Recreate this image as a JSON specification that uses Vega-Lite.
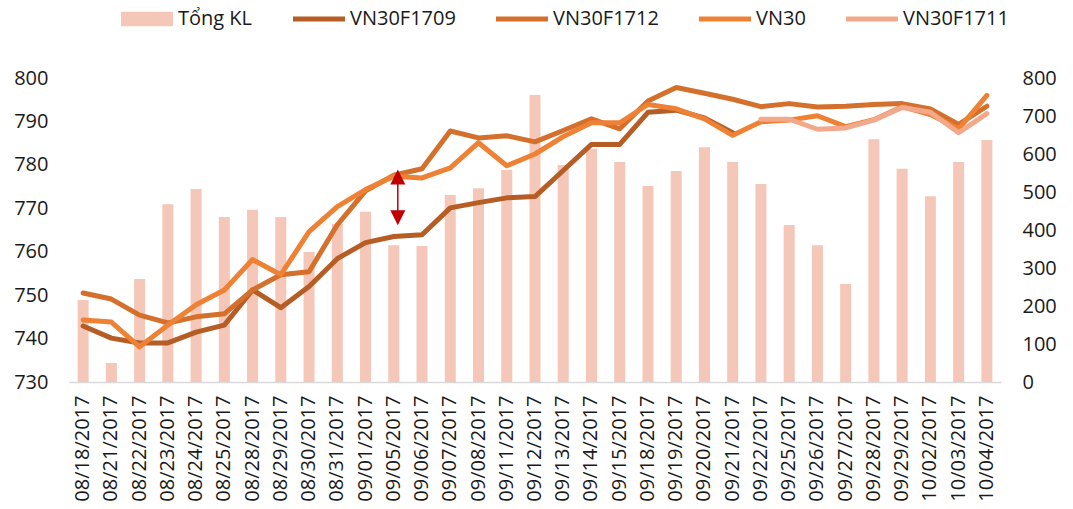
{
  "$schema": "https://vega.github.io/schema/vega-lite/v6.json",
  "autosize": {"type": "none"},
  "width": 932,
  "height": 304,
  "padding": {"left": 69, "top": 78, "right": 72, "bottom": 127},
  "background": "white",
  "config": {
    "view": {"stroke": null},
    "font": "Open Sans",
    "axis": {"labelFont": "Open Sans", "labelFontSize": 20, "labelColor": "#1a1a1a", "grid": false, "ticks": false}
  },
  "datasets": {
    "bars": [
      {"date": "08/18/2017", "kl": 216}, {"date": "08/21/2017", "kl": 50}, {"date": "08/22/2017", "kl": 271},
      {"date": "08/23/2017", "kl": 468}, {"date": "08/24/2017", "kl": 508}, {"date": "08/25/2017", "kl": 434},
      {"date": "08/28/2017", "kl": 453}, {"date": "08/29/2017", "kl": 434}, {"date": "08/30/2017", "kl": 342},
      {"date": "08/31/2017", "kl": 416}, {"date": "09/01/2017", "kl": 448}, {"date": "09/05/2017", "kl": 360},
      {"date": "09/06/2017", "kl": 358}, {"date": "09/07/2017", "kl": 492}, {"date": "09/08/2017", "kl": 510},
      {"date": "09/11/2017", "kl": 558}, {"date": "09/12/2017", "kl": 755}, {"date": "09/13/2017", "kl": 571},
      {"date": "09/14/2017", "kl": 614}, {"date": "09/15/2017", "kl": 579}, {"date": "09/18/2017", "kl": 516},
      {"date": "09/19/2017", "kl": 555}, {"date": "09/20/2017", "kl": 618}, {"date": "09/21/2017", "kl": 579},
      {"date": "09/22/2017", "kl": 521}, {"date": "09/25/2017", "kl": 413}, {"date": "09/26/2017", "kl": 360},
      {"date": "09/27/2017", "kl": 258}, {"date": "09/28/2017", "kl": 639}, {"date": "09/29/2017", "kl": 561},
      {"date": "10/02/2017", "kl": 489}, {"date": "10/03/2017", "kl": 579}, {"date": "10/04/2017", "kl": 637}
    ],
    "lines": [
      {"date": "08/18/2017", "series": "VN30F1709", "value": 742.9},
      {"date": "08/21/2017", "series": "VN30F1709", "value": 740.1},
      {"date": "08/22/2017", "series": "VN30F1709", "value": 739.0},
      {"date": "08/23/2017", "series": "VN30F1709", "value": 739.0},
      {"date": "08/24/2017", "series": "VN30F1709", "value": 741.5},
      {"date": "08/25/2017", "series": "VN30F1709", "value": 743.1},
      {"date": "08/28/2017", "series": "VN30F1709", "value": 751.2},
      {"date": "08/29/2017", "series": "VN30F1709", "value": 747.1},
      {"date": "08/30/2017", "series": "VN30F1709", "value": 752.0},
      {"date": "08/31/2017", "series": "VN30F1709", "value": 758.4},
      {"date": "09/01/2017", "series": "VN30F1709", "value": 762.1},
      {"date": "09/05/2017", "series": "VN30F1709", "value": 763.5},
      {"date": "09/06/2017", "series": "VN30F1709", "value": 763.9},
      {"date": "09/07/2017", "series": "VN30F1709", "value": 770.1},
      {"date": "09/08/2017", "series": "VN30F1709", "value": 771.3},
      {"date": "09/11/2017", "series": "VN30F1709", "value": 772.4},
      {"date": "09/12/2017", "series": "VN30F1709", "value": 772.7},
      {"date": "09/13/2017", "series": "VN30F1709", "value": 778.7},
      {"date": "09/14/2017", "series": "VN30F1709", "value": 784.7},
      {"date": "09/15/2017", "series": "VN30F1709", "value": 784.7},
      {"date": "09/18/2017", "series": "VN30F1709", "value": 792.1},
      {"date": "09/19/2017", "series": "VN30F1709", "value": 792.6},
      {"date": "09/20/2017", "series": "VN30F1709", "value": 790.8},
      {"date": "09/21/2017", "series": "VN30F1709", "value": 787.4},

      {"date": "08/18/2017", "series": "VN30F1712", "value": 750.5},
      {"date": "08/21/2017", "series": "VN30F1712", "value": 749.1},
      {"date": "08/22/2017", "series": "VN30F1712", "value": 745.4},
      {"date": "08/23/2017", "series": "VN30F1712", "value": 743.6},
      {"date": "08/24/2017", "series": "VN30F1712", "value": 745.0},
      {"date": "08/25/2017", "series": "VN30F1712", "value": 745.7},
      {"date": "08/28/2017", "series": "VN30F1712", "value": 751.2},
      {"date": "08/29/2017", "series": "VN30F1712", "value": 754.7},
      {"date": "08/30/2017", "series": "VN30F1712", "value": 755.4},
      {"date": "08/31/2017", "series": "VN30F1712", "value": 766.2},
      {"date": "09/01/2017", "series": "VN30F1712", "value": 774.0},
      {"date": "09/05/2017", "series": "VN30F1712", "value": 777.6},
      {"date": "09/06/2017", "series": "VN30F1712", "value": 779.1},
      {"date": "09/07/2017", "series": "VN30F1712", "value": 787.8},
      {"date": "09/08/2017", "series": "VN30F1712", "value": 786.2},
      {"date": "09/11/2017", "series": "VN30F1712", "value": 786.7},
      {"date": "09/12/2017", "series": "VN30F1712", "value": 785.3},
      {"date": "09/13/2017", "series": "VN30F1712", "value": 787.9},
      {"date": "09/14/2017", "series": "VN30F1712", "value": 790.6},
      {"date": "09/15/2017", "series": "VN30F1712", "value": 788.3},
      {"date": "09/18/2017", "series": "VN30F1712", "value": 794.7},
      {"date": "09/19/2017", "series": "VN30F1712", "value": 797.8},
      {"date": "09/20/2017", "series": "VN30F1712", "value": 796.5},
      {"date": "09/21/2017", "series": "VN30F1712", "value": 795.1},
      {"date": "09/22/2017", "series": "VN30F1712", "value": 793.4},
      {"date": "09/25/2017", "series": "VN30F1712", "value": 794.1},
      {"date": "09/26/2017", "series": "VN30F1712", "value": 793.3},
      {"date": "09/27/2017", "series": "VN30F1712", "value": 793.5},
      {"date": "09/28/2017", "series": "VN30F1712", "value": 793.9},
      {"date": "09/29/2017", "series": "VN30F1712", "value": 794.1},
      {"date": "10/02/2017", "series": "VN30F1712", "value": 792.9},
      {"date": "10/03/2017", "series": "VN30F1712", "value": 789.3},
      {"date": "10/04/2017", "series": "VN30F1712", "value": 793.5},

      {"date": "08/18/2017", "series": "VN30", "value": 744.3},
      {"date": "08/21/2017", "series": "VN30", "value": 743.8},
      {"date": "08/22/2017", "series": "VN30", "value": 738.1},
      {"date": "08/23/2017", "series": "VN30", "value": 743.1},
      {"date": "08/24/2017", "series": "VN30", "value": 747.8},
      {"date": "08/25/2017", "series": "VN30", "value": 751.2},
      {"date": "08/28/2017", "series": "VN30", "value": 758.2},
      {"date": "08/29/2017", "series": "VN30", "value": 754.7},
      {"date": "08/30/2017", "series": "VN30", "value": 764.6},
      {"date": "08/31/2017", "series": "VN30", "value": 770.4},
      {"date": "09/01/2017", "series": "VN30", "value": 774.3},
      {"date": "09/05/2017", "series": "VN30", "value": 777.4},
      {"date": "09/06/2017", "series": "VN30", "value": 777.0},
      {"date": "09/07/2017", "series": "VN30", "value": 779.3},
      {"date": "09/08/2017", "series": "VN30", "value": 785.1},
      {"date": "09/11/2017", "series": "VN30", "value": 779.8},
      {"date": "09/12/2017", "series": "VN30", "value": 782.5},
      {"date": "09/13/2017", "series": "VN30", "value": 786.5},
      {"date": "09/14/2017", "series": "VN30", "value": 789.7},
      {"date": "09/15/2017", "series": "VN30", "value": 789.7},
      {"date": "09/18/2017", "series": "VN30", "value": 793.9},
      {"date": "09/19/2017", "series": "VN30", "value": 792.9},
      {"date": "09/20/2017", "series": "VN30", "value": 790.6},
      {"date": "09/21/2017", "series": "VN30", "value": 786.8},
      {"date": "09/22/2017", "series": "VN30", "value": 789.9},
      {"date": "09/25/2017", "series": "VN30", "value": 790.3},
      {"date": "09/26/2017", "series": "VN30", "value": 791.3},
      {"date": "09/27/2017", "series": "VN30", "value": 788.8},
      {"date": "09/28/2017", "series": "VN30", "value": 790.4},
      {"date": "09/29/2017", "series": "VN30", "value": 793.4},
      {"date": "10/02/2017", "series": "VN30", "value": 791.6},
      {"date": "10/03/2017", "series": "VN30", "value": 788.3},
      {"date": "10/04/2017", "series": "VN30", "value": 796.0},

      {"date": "09/22/2017", "series": "VN30F1711", "value": 790.5},
      {"date": "09/25/2017", "series": "VN30F1711", "value": 790.5},
      {"date": "09/26/2017", "series": "VN30F1711", "value": 788.2},
      {"date": "09/27/2017", "series": "VN30F1711", "value": 788.5},
      {"date": "09/28/2017", "series": "VN30F1711", "value": 790.3},
      {"date": "09/29/2017", "series": "VN30F1711", "value": 793.2},
      {"date": "10/02/2017", "series": "VN30F1711", "value": 792.1},
      {"date": "10/03/2017", "series": "VN30F1711", "value": 787.4},
      {"date": "10/04/2017", "series": "VN30F1711", "value": 791.8}
    ],
    "arrow": [
      {"date": "09/05/2017", "top": 777.2, "bottom": 767.8}
    ]
  },
  "layer": [
    {
      "data": {"name": "bars"},
      "mark": {"type": "bar"},
      "encoding": {
        "x": {
          "field": "date", "type": "ordinal", "title": null,
          "scale": {"paddingInner": 0.61, "paddingOuter": 0.305},
          "axis": {"labelAngle": -90, "labelPadding": 13, "domainColor": "#D9D9D9", "domainWidth": 1.5}
        },
        "y": {
          "field": "kl", "type": "quantitative", "title": null,
          "scale": {"domain": [0, 800], "nice": false},
          "axis": {"orient": "right", "values": [0, 100, 200, 300, 400, 500, 600, 700, 800], "domain": false, "labelPadding": 21}
        },
        "color": {
          "datum": "Tổng KL",
          "title": null,
          "scale": {
            "domain": ["Tổng KL", "VN30F1709", "VN30F1712", "VN30", "VN30F1711"],
            "range": ["#F5C7B8", "#B55D25", "#D5702C", "#EE8134", "#F2A98B"]
          },
          "legend": {
            "orient": "none", "legendX": 52, "legendY": -85, "direction": "horizontal", "title": null,
            "labelFont": "Open Sans", "labelFontSize": 20, "labelColor": "#1a1a1a",
            "symbolSize": 2704, "columnPadding": 40, "labelOffset": 5, "symbolStrokeWidth": 0,
            "encode": {
              "symbols": {
                "update": {
                  "shape": {"signal": "datum.value === 'Tổng KL' ? 'M-1,-0.28H1V0.28H-1Z' : 'M-1,-0.1H1V0.1H-1Z'"},
                  "fill": {"signal": "scale('color', datum.value)"},
                  "strokeWidth": {"value": 0},
                  "opacity": {"value": 1}
                }
              }
            }
          }
        }
      }
    },
    {
      "layer": [
        {
          "data": {"name": "lines"},
          "mark": {"type": "line", "strokeWidth": 5, "strokeJoin": "round", "strokeCap": "round"},
          "encoding": {
            "x": {"field": "date", "type": "ordinal", "title": null},
            "y": {
              "field": "value", "type": "quantitative", "title": null,
              "scale": {"domain": [730, 800], "nice": false, "zero": false},
              "axis": {"orient": "left", "values": [730, 740, 750, 760, 770, 780, 790, 800], "domain": false, "labelPadding": 21}
            },
            "color": {"field": "series", "type": "nominal", "title": null}
          }
        },
        {
          "data": {"name": "arrow"},
          "mark": {"type": "rule", "color": "#C00000", "strokeWidth": 1.5, "xOffset": 4},
          "encoding": {
            "x": {"field": "date", "type": "ordinal", "title": null},
            "y": {"field": "top", "type": "quantitative", "title": null},
            "y2": {"field": "bottom"}
          }
        },
        {
          "data": {"name": "arrow"},
          "mark": {"type": "point", "shape": "M0,-1L1,1L-1,1Z", "filled": true, "size": 225, "color": "#C00000", "opacity": 1, "xOffset": 4},
          "encoding": {
            "x": {"field": "date", "type": "ordinal", "title": null},
            "y": {"field": "top", "type": "quantitative", "title": null}
          }
        },
        {
          "data": {"name": "arrow"},
          "mark": {"type": "point", "shape": "M0,1L1,-1L-1,-1Z", "filled": true, "size": 225, "color": "#C00000", "opacity": 1, "xOffset": 4},
          "encoding": {
            "x": {"field": "date", "type": "ordinal", "title": null},
            "y": {"field": "bottom", "type": "quantitative", "title": null}
          }
        }
      ]
    }
  ],
  "resolve": {"scale": {"y": "independent"}}
}
